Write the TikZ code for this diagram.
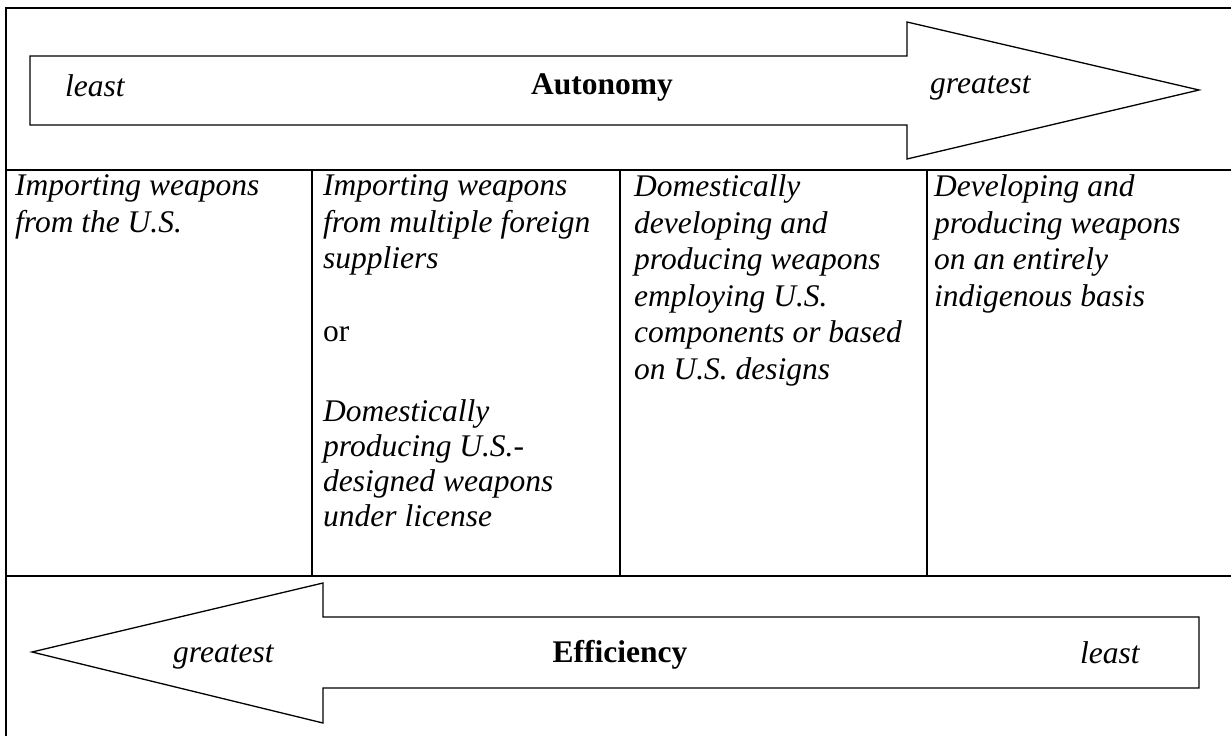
\documentclass[tikz,border=0pt]{standalone}
\usepackage{fontspec}
\setmainfont{Liberation Serif}
\begin{document}
\begin{tikzpicture}[x=1pt,y=-1pt,
  frameline/.style={line width=2pt},
  arrowshape/.style={line width=1.3pt, line join=miter, fill=white},
  cell/.style={anchor=north west, inner sep=0pt, align=left,
    font=\fontsize{31.5}{36.5}\selectfont\itshape, execute at begin node=\strut},
  lbl/.style={inner sep=0pt, font=\fontsize{31.5}{36.5}\selectfont\itshape},
  bold/.style={inner sep=0pt, anchor=base, font=\fontsize{31.5}{36.5}\selectfont\bfseries}]
\useasboundingbox (0,0) rectangle (1231,736);
\fill[white] (0,0) rectangle (1231,736);
% frame
\draw[frameline] (6,736) -- (6,8) -- (1231,8);
\draw[frameline] (6,170) -- (1231,170);
\draw[frameline] (6,576) -- (1231,576);
\draw[frameline] (312,170) -- (312,576);
\draw[frameline] (620,170) -- (620,576);
\draw[frameline] (927,170) -- (927,576);
% autonomy arrow
\draw[arrowshape] (30,56) -- (907,56) -- (907,22) -- (1199,90) -- (907,159) -- (907,125) -- (30,125) -- cycle;
\node[lbl, anchor=base west] (aleast) at (65,96) {least};
\node[bold] (auto) at (602,94) {Autonomy};
\node[lbl, anchor=base west] (agreat) at (930,93) {greatest};
% efficiency arrow
\draw[arrowshape] (1199,617) -- (323,617) -- (323,583) -- (32,652) -- (323,723) -- (323,688) -- (1199,688) -- cycle;
\node[lbl, anchor=base west] (egreat) at (173,662) {greatest};
\node[bold] (eff) at (620,662) {Efficiency};
\node[lbl, anchor=base west] (eleast) at (1080,663) {least};
% cells (first baseline at y = 200)
\node[cell] (c1) at (15,174.45) {Importing weapons\\from the U.S.};
\node[cell] (c2) at (323,174.45) {Importing weapons\\from multiple foreign\\suppliers\\[36.5pt]{\upshape or}\\[43.5pt]Domestically\\[-1.5pt]producing U.S.-\\[-1.5pt]designed weapons\\[-1.5pt]under license};
\node[cell] (c3) at (634,174.45) {Domestically\\developing and\\producing weapons\\employing U.S.\\components or based\\on U.S. designs};
\node[cell] (c4) at (934,174.45) {Developing and\\producing weapons\\on an entirely\\indigenous basis};
\end{tikzpicture}
\end{document}
